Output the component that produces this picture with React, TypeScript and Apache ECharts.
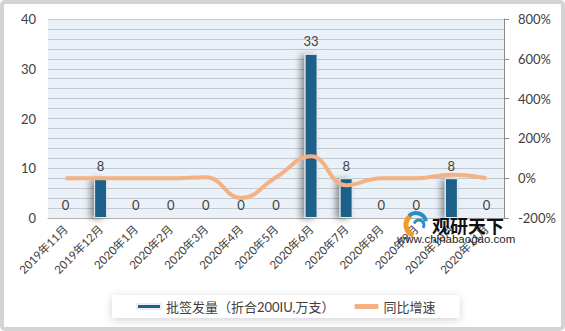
import React, { useEffect, useRef } from "react";
import * as echarts from "echarts";

const categories = [
  "2019年11月", "2019年12月", "2020年1月", "2020年2月", "2020年3月", "2020年4月",
  "2020年5月", "2020年6月", "2020年7月", "2020年8月", "2020年9月", "2020年10月", "2020年11月",
];
const batchValues = [0, 8, 0, 0, 0, 0, 0, 33, 8, 0, 0, 8, 0];
const growthValues = [0, 0, 0, 0, 5, -100, 5, 110, -35, 0, 0, 17, 0];
const barName = "批签发量（折合200IU,万支）";
const lineName = "同比增速";

const FONT = 'Lato, "Noto Sans CJK SC", sans-serif';
const TXT = "#404040";

export default function App() {
  const ref = useRef<HTMLDivElement>(null);
  useEffect(() => {
    document.body.style.margin = "0";
    const chart = echarts.init(ref.current!, null, { renderer: "svg" });
    chart.setOption({
      animation: false,
      backgroundColor: "#ffffff",
      textStyle: { fontFamily: FONT, color: TXT },
      grid: {
        left: 48, right: 61, top: 19, bottom: 113,
        show: true, backgroundColor: "#EBF1F8", borderWidth: 0,
      },
      legend: {
        left: 112, top: 295,
        padding: [5, 24, 5, 24],
        backgroundColor: "#ffffff",
        shadowColor: "rgba(0,0,0,0.18)", shadowBlur: 8, shadowOffsetX: 0, shadowOffsetY: 2,
        itemGap: 20, itemWidth: 24, itemHeight: 5,
        textStyle: { fontSize: 13, color: TXT, fontFamily: FONT },
        data: [
          { name: barName, icon: "rect" },
          { name: lineName, icon: "roundRect", itemStyle: { color: "#F4B183" } },
        ],
      },
      xAxis: {
        type: "category",
        data: categories,
        axisLine: { show: true, lineStyle: { color: "#b0b0b0", width: 1 } },
        axisTick: { show: false },
        axisLabel: { rotate: 45, fontSize: 11.5, color: TXT, margin: 9, interval: 0, fontFamily: FONT },
      },
      yAxis: [
        {
          type: "value", min: 0, max: 40, interval: 10,
          axisLine: { show: false }, axisTick: { show: false },
          axisLabel: { fontSize: 13, color: TXT, margin: 12, fontFamily: FONT },
          splitLine: { show: true, lineStyle: { color: "#c3c9d0", width: 1 } },
          minorTick: { show: false, splitNumber: 5 },
          minorSplitLine: { show: true, lineStyle: { color: "#c3c9d0", width: 1 } },
        },
        {
          type: "value", min: -200, max: 800, interval: 200,
          axisLine: { show: true, lineStyle: { color: "#8c8c8c", width: 1 } },
          axisTick: { show: true, length: 5, lineStyle: { color: "#8c8c8c" } },
          axisLabel: { fontSize: 13, color: TXT, margin: 14, formatter: "{value}%", fontFamily: FONT },
          splitLine: { show: false },
        },
      ],
      series: [
        {
          name: barName,
          type: "bar",
          data: batchValues,
          barWidth: 13,
          itemStyle: {
            color: "#1B6189",
            borderColor: "#e8eef4", borderWidth: 1,
            shadowColor: "rgba(0,0,0,0.4)", shadowBlur: 6, shadowOffsetX: -4, shadowOffsetY: 1,
          },
          label: { show: true, position: "top", distance: 6, fontSize: 13, color: TXT, fontFamily: FONT },
          z: 2,
        },
        {
          name: lineName,
          type: "line",
          yAxisIndex: 1,
          data: growthValues,
          smooth: 0.45,
          symbol: "none",
          lineStyle: { color: "#F4B183", width: 4 },
          itemStyle: { color: "#F4B183" },
          z: 3,
        },
      ],
      graphic: [
        {
          type: "rect", silent: true, z: 100,
          shape: { x: 2, y: 2, width: 561, height: 327, r: 3 },
          style: { fill: "none", stroke: "#d4d4d4", lineWidth: 4 },
        },
        {
          type: "arc", z: 50, silent: true,
          shape: { cx: 417, cy: 225, r: 11, startAngle: Math.PI * 0.6, endAngle: Math.PI * 1.3 },
          style: { stroke: "#F39A2B", lineWidth: 5, fill: "none" },
        },
        {
          type: "arc", z: 50, silent: true,
          shape: { cx: 416, cy: 223, r: 10, startAngle: Math.PI * 1.25, endAngle: Math.PI * 1.95 },
          style: { stroke: "#2A8FC0", lineWidth: 4, fill: "none" },
        },
        {
          type: "arc", z: 50, silent: true,
          shape: { cx: 419, cy: 225, r: 5, startAngle: Math.PI * 1.1, endAngle: Math.PI * 2.2 },
          style: { stroke: "#2A8FC0", lineWidth: 3, fill: "none" },
        },
        {
          type: "text", z: 50, silent: true, x: 432, y: 225,
          style: {
            text: "观研天下", fontSize: 18, fontWeight: "bold", fill: "#111111",
            fontFamily: '"Noto Sans CJK SC", sans-serif', verticalAlign: "middle",
          },
        },
        {
          type: "text", z: 50, silent: true, x: 397, y: 239,
          style: {
            text: "www.chinabaogao.com", fontSize: 11.5, fill: "#222222",
            fontFamily: '"Liberation Sans", Arial, sans-serif', verticalAlign: "middle",
          },
        },
      ],
    });
    return () => chart.dispose();
  }, []);
  return <div ref={ref} style={{ width: 565, height: 331, position: "fixed", left: 0, top: 0 }} />;
}
